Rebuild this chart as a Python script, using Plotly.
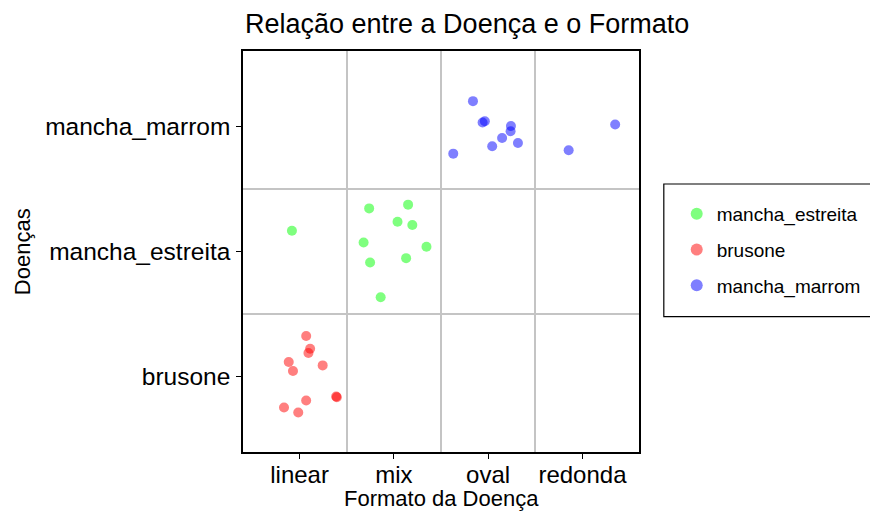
import plotly.graph_objects as go

formatos = ["linear", "mix", "oval", "redonda"]
doencas = ["brusone", "mancha_estreita", "mancha_marrom"]

# brusone
brusone_formato = ["linear"] * 11
brusone_dx = [0.070, 0.112, 0.094, -0.115, -0.070, 0.245, 0.388, 0.395, 0.070, -0.165, -0.014]
brusone_dy = [0.326, 0.224, 0.190, 0.118, 0.046, 0.091, -0.157, -0.163, -0.189, -0.245, -0.285]

# mancha_estreita
estreita_formato = ["linear"] + ["mix"] * 9
estreita_dx = [-0.081, -0.262, 0.151, 0.039, 0.196, -0.321, 0.346, 0.130, -0.252, -0.140]
estreita_dy = [0.166, 0.344, 0.374, 0.238, 0.211, 0.072, 0.038, -0.053, -0.088, -0.365]

# mancha_marrom
marrom_formato = ["oval"] * 9 + ["redonda"] * 2
marrom_dx = [-0.161, -0.059, -0.035, 0.242, 0.238, 0.148, 0.316, 0.043, -0.370, -0.146, 0.347]
marrom_dy = [0.200, 0.030, 0.040, 0.002, -0.040, -0.094, -0.134, -0.160, -0.219, -0.192, 0.014]

series = [
    ("mancha_estreita", estreita_formato, estreita_dx, estreita_dy, "rgba(0,255,0,0.5)"),
    ("brusone", brusone_formato, brusone_dx, brusone_dy, "rgba(255,0,0,0.5)"),
    ("mancha_marrom", marrom_formato, marrom_dx, marrom_dy, "rgba(0,0,255,0.5)"),
]

FONT = "Liberation Sans, Arial, sans-serif"
OFF = 8                      # default page margin of the html body
W, H = 878 - OFF, 514 - OFF  # figure size so it fits the window
# plot area in window pixels
L, T, R, B = 243, 51, 642, 452
PW, PH = R - L, B - T


def px_x(xw):
    return (xw - L) / PW


def px_y(yw):
    return (B - yw) / PH


fig = go.Figure()
for name, fmts, dx, dy, color in series:
    xi = [formatos.index(f) + 1 + d for f, d in zip(fmts, dx)]
    yi = [doencas.index(name) + 1 + d for d in dy]
    fig.add_trace(go.Scatter(
        x=xi, y=yi, mode="markers", name=name, legendgroup=name,
        marker=dict(size=10, color=color, line=dict(width=0)),
        hoverinfo="skip",
    ))

axis_common = dict(
    showline=True, linecolor="black", linewidth=1.5, mirror=True,
    ticks="outside", ticklen=5, tickcolor="black", tickwidth=1.2,
    showgrid=False, zeroline=False, automargin=False,
)

fig.update_layout(
    width=W, height=H,
    margin=dict(l=L - OFF, r=878 - R, t=T - OFF, b=514 - B),
    paper_bgcolor="white", plot_bgcolor="white",
    font=dict(family=FONT, color="black"),
    title=dict(text="Relação entre a Doença e o Formato", x=(L + 2 - OFF) / W, xanchor="left",
               xref="container", yref="container", y=1 - (24 - OFF) / H, yanchor="middle",
               font=dict(family=FONT, size=27, color="black")),
    xaxis=dict(
        **axis_common, range=[0.4, 4.6], ticklabelstandoff=-5,
        tickfont=dict(family=FONT, size=24, color="black"),
        tickmode="array", tickvals=[1, 2, 3, 4], ticktext=formatos,
        minor=dict(tickmode="array", tickvals=[1.5, 2.5, 3.5], showgrid=True,
                   gridcolor="#C4C4C4", gridwidth=1.8, ticks=""),
    ),
    yaxis=dict(
        **axis_common, range=[0.4, 3.6], ticklabelstandoff=1,
        tickfont=dict(family=FONT, size=24.5, color="black"),
        tickmode="array", tickvals=[1, 2, 3], ticktext=doencas,
        minor=dict(tickmode="array", tickvals=[1.5, 2.5], showgrid=True,
                   gridcolor="#C4C4C4", gridwidth=1.8, ticks=""),
    ),
    annotations=[
        dict(text="Formato da Doença", xref="paper", yref="paper",
             x=0.5, y=px_y(499), xanchor="center", yanchor="middle",
             showarrow=False, font=dict(family=FONT, size=22, color="black")),
        dict(text="Doenças", xref="paper", yref="paper", textangle=-90,
             x=px_x(21), y=0.5, xanchor="center", yanchor="middle",
             showarrow=False, font=dict(family=FONT, size=22, color="black")),
    ],
    legend=dict(
        x=px_x(680), xanchor="left", y=px_y(195), yanchor="top",
        font=dict(family=FONT, size=19, color="black"),
        bgcolor="rgba(0,0,0,0)", borderwidth=0,
        tracegroupgap=8, itemsizing="constant",
    ),
    shapes=[dict(type="rect", xref="paper", yref="paper",
                 x0=px_x(667), x1=px_x(876),
                 y0=px_y(316.7), y1=px_y(184),
                 line=dict(color="black", width=1.2), fillcolor="rgba(0,0,0,0)")],
)

fig.write_html("out.html")
